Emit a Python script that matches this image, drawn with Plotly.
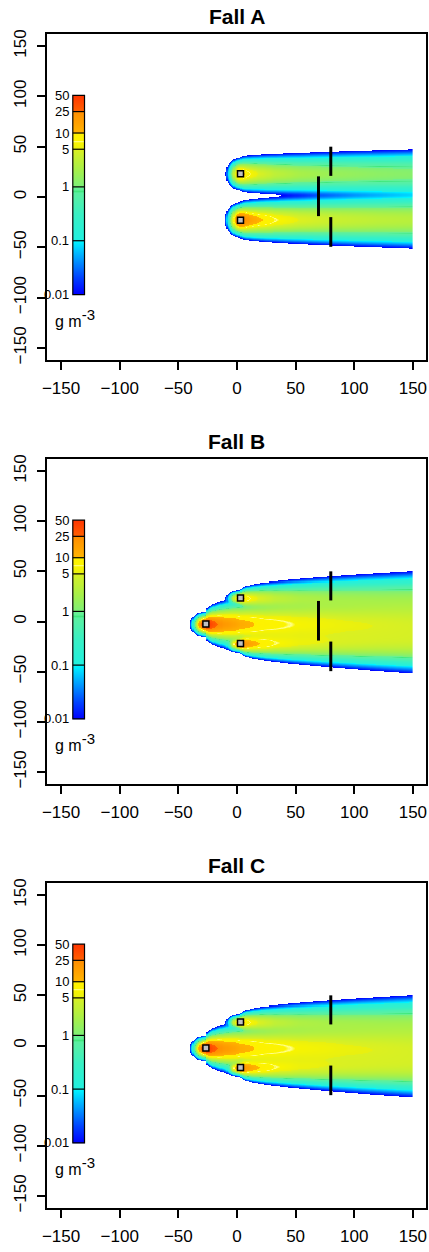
import numpy as np
import plotly.graph_objects as go

# ---------------------------------------------------------------
# Colour key for concentration (g m^-3)
KEY_LEVELS = [0.01, 0.1, 1, 5, 10, 25, 50]
KEY_LABELS = ["0.01", "0.1", "1", "5", "10", "25", "50"]

# Colour stops along the key (concentration, colour)
STOP_CONC = [0.01, 0.02, 0.05, 0.1, 0.1001, 0.3, 0.62, 0.77, 0.82, 0.88, 1.0, 1.0001,
             2.0, 4.0, 5.0, 5.001, 6.7, 7.0, 7.3, 9.99, 10.0, 24.99, 25.0, 50.0]
STOP_COLOR = ["#0000ff", "#0040ff", "#00a8ff", "#00f8ff", "#20f0e0", "#38f0c4", "#54f0a8",
              "#5af0a0", "#40e87c", "#60f098", "#6cf090", "#7cf078",
              "#a4f04c", "#ccf02c", "#dcf020", "#e8f010", "#f8f400", "#ffff90", "#fcf400",
              "#fff000", "#ffb400", "#ff8c00", "#ff6000", "#ff3400"]

# Downwind decay of the plume centre-line, relative to the source value
DOWNWIND_DIST = [0, 3, 8, 15, 30, 50, 80, 120, 180, 220]
CENTRELINE_REL = [1.0, 0.75, 0.5, 0.35, 0.22, 0.155, 0.118, 0.095, 0.078, 0.07]
UPWIND_SPREAD = 3.3

# Case A: two sources and three sampling transects
A_SRC_X = [3, 3]
A_SRC_Y = [23, -23]
A_SRC_Q = [14, 32]          # value at the source
A_SRC_W = [4.3, 4.4]        # lateral spread at the source
A_SRC_G = [0.30, 0.34]      # lateral spread growth (per sqrt of distance)
A_LINE_X = [80, 69.5, 80]
A_LINE_Y0 = [21, -19, -20]
A_LINE_Y1 = [50, 20.5, -49.5]

# Case B: three sources and three sampling transects
B_SRC_X = [-26.5, 3, 3]
B_SRC_Y = [-2.5, 23.5, -22]
B_SRC_Q = [55, 14, 28]
B_SRC_W = [3.1, 2.2, 2.2]
B_SRC_G = [0.78, 0.5, 0.5]
B_LINE_X = [80, 69.5, 80]
B_LINE_Y0 = [21, -19, -20]
B_LINE_Y1 = [50, 20.5, -49.5]

# Case C: same sources as B, two sampling transects
C_SRC_X = [-26.5, 3, 3]
C_SRC_Y = [-2.5, 23.5, -22]
C_SRC_Q = [55, 14, 28]
C_SRC_W = [3.1, 2.2, 2.2]
C_SRC_G = [0.78, 0.5, 0.5]
C_LINE_X = [80, 80]
C_LINE_Y0 = [21, -20]
C_LINE_Y1 = [50, -49.5]

TITLES = ["Fall A", "Fall B", "Fall C"]
AXIS_TICKS = [-150, -100, -50, 0, 50, 100, 150]

# ---------------------------------------------------------------
LOG_MIN = np.log10(KEY_LEVELS[0])
LOG_MAX = np.log10(KEY_LEVELS[-1])


def key_pos(c):
    return (np.log10(c) - LOG_MIN) / (LOG_MAX - LOG_MIN)


COLORSCALE = [[float(key_pos(c)), col] for c, col in zip(STOP_CONC, STOP_COLOR)]
COLORSCALE[0][0] = 0.0
COLORSCALE[-1][0] = 1.0

# model grid (cell centres, 1 m spacing, ending at x = 150)
GX = np.arange(-59.5, 150.0, 1.0)
GY = np.arange(-89.5, 90.0, 1.0)


def plume_field(src_x, src_y, src_q, src_w, src_g):
    X, Y = np.meshgrid(GX, GY)
    conc = np.zeros_like(X)
    for x0, y0, q, w, g in zip(src_x, src_y, src_q, src_w, src_g):
        dx = X - x0
        dy = Y - y0
        down = np.clip(dx, 0, None)
        sig = w + g * np.sqrt(down)
        rel = np.interp(down, DOWNWIND_DIST, CENTRELINE_REL)
        up = np.where(dx < 0, np.exp(-dx ** 2 / (2 * UPWIND_SPREAD ** 2)), 1.0)
        conc += q * rel * up * np.exp(-dy ** 2 / (2 * sig ** 2))
    z = np.log10(np.maximum(conc, 1e-12))
    z = np.minimum(z, LOG_MAX)
    z = np.where(conc < KEY_LEVELS[0], np.nan, np.round(z, 3))
    return z


CASES = [
    (A_SRC_X, A_SRC_Y, A_SRC_Q, A_SRC_W, A_SRC_G, A_LINE_X, A_LINE_Y0, A_LINE_Y1),
    (B_SRC_X, B_SRC_Y, B_SRC_Q, B_SRC_W, B_SRC_G, B_LINE_X, B_LINE_Y0, B_LINE_Y1),
    (C_SRC_X, C_SRC_Y, C_SRC_Q, C_SRC_W, C_SRC_G, C_LINE_X, C_LINE_Y0, C_LINE_Y1),
]

# layout geometry
W, H = 429, 1252
M_L, M_R, M_T, M_B = 47, 1, 34, 44
PANEL_PX = [(34, 360), (459, 784), (883, 1208)]   # top, bottom in pixels
plot_h = H - M_T - M_B


def px_to_paper(py):
    return (H - M_B - py) / plot_h


# key bar placement in data units
KEY_X0, KEY_X1 = -140.0, -130.0
KEY_Y0, KEY_Y1 = -97.0, 101.0


def key_y(c):
    return KEY_Y0 + key_pos(c) * (KEY_Y1 - KEY_Y0)


NARROW = "Liberation Sans Narrow, Arial Narrow, Liberation Sans, Arial, sans-serif"
TICK_FONT = dict(family=NARROW, size=17, color="black")
KEY_FONT = dict(family=NARROW, size=13, color="black")

fig = go.Figure()
annotations = []
shapes = []

for i, (sx, sy, sq, sw, sg, lx, ly0, ly1) in enumerate(CASES):
    n = "" if i == 0 else str(i + 1)
    xa, ya = "x" + n, "y" + n

    z = plume_field(sx, sy, sq, sw, sg)
    fig.add_trace(go.Heatmap(
        x=GX, y=GY, z=z, xaxis=xa, yaxis=ya,
        colorscale=COLORSCALE, zmin=LOG_MIN, zmax=LOG_MAX,
        showscale=False, hoverinfo="skip", zsmooth=False,
    ))

    # colour key bar drawn as a one-column heatmap
    key_edges = np.linspace(KEY_Y0, KEY_Y1, 199)
    key_mid = 0.5 * (key_edges[:-1] + key_edges[1:])
    key_z = LOG_MIN + (key_mid - KEY_Y0) / (KEY_Y1 - KEY_Y0) * (LOG_MAX - LOG_MIN)
    fig.add_trace(go.Heatmap(
        x=[KEY_X0, KEY_X1], y=key_edges, z=key_z.reshape(-1, 1),
        xaxis=xa, yaxis=ya, colorscale=COLORSCALE, zmin=LOG_MIN, zmax=LOG_MAX,
        showscale=False, hoverinfo="skip",
    ))
    shapes.append(dict(type="rect", xref=xa, yref=ya, x0=KEY_X0, x1=KEY_X1,
                       y0=KEY_Y0, y1=KEY_Y1, line=dict(color="black", width=1.2)))
    for lev, lab in zip(KEY_LEVELS, KEY_LABELS):
        yy = key_y(lev)
        if 0 < key_pos(lev) < 1:
            shapes.append(dict(type="line", xref=xa, yref=ya, x0=KEY_X0, x1=KEY_X1,
                               y0=yy, y1=yy, line=dict(color="black", width=1.2)))
        annotations.append(dict(xref=xa, yref=ya, x=KEY_X0 - 1.2, y=yy, text=lab,
                                showarrow=False, xanchor="right", yanchor="middle",
                                font=KEY_FONT))
    annotations.append(dict(xref=xa, yref=ya, x=-157, y=-120,
                            text="g m<sup><span style='font-size:15px'>-3</span></sup>",
                            showarrow=False, xanchor="left", yanchor="middle",
                            font=dict(family="Liberation Sans, Arial, sans-serif",
                                      size=16, color="black")))

    # sampling transects
    tx, ty = [], []
    for x0, y0, y1 in zip(lx, ly0, ly1):
        tx += [x0, x0, None]
        ty += [y0, y1, None]
    fig.add_trace(go.Scatter(x=tx, y=ty, xaxis=xa, yaxis=ya, mode="lines",
                             line=dict(color="black", width=3), hoverinfo="skip",
                             showlegend=False))

    # source positions
    fig.add_trace(go.Scatter(x=sx, y=sy, xaxis=xa, yaxis=ya, mode="markers",
                             marker=dict(symbol="square", size=6, color="#c0c0c0",
                                         line=dict(color="black", width=1.5)),
                             hoverinfo="skip", showlegend=False))

    top_px, bot_px = PANEL_PX[i]
    dom = [px_to_paper(bot_px), px_to_paper(top_px)]
    axis_common = dict(showgrid=False, zeroline=False, showline=True, mirror=True,
                       linecolor="black", linewidth=1.5, ticks="outside", ticklen=8,
                       tickwidth=1.5, tickcolor="black", tickvals=AXIS_TICKS,
                       tickfont=TICK_FONT)
    fig.layout["xaxis" + n] = dict(domain=[0, 1], range=[-162, 161.2], anchor=ya,
                                   ticklabelstandoff=4, **axis_common)
    fig.layout["yaxis" + n] = dict(domain=dom, range=[-162, 162], anchor=xa,
                                   tickangle=-90, ticklabelstandoff=4, **axis_common)

    annotations.append(dict(xref="paper", yref="paper", x=0.5, y=dom[1],
                            text="<b>" + TITLES[i] + "</b>", showarrow=False,
                            xanchor="center", yanchor="bottom", yshift=4,
                            font=dict(family="Liberation Sans, Arial, sans-serif",
                                      size=21, color="black")))

fig.update_layout(
    width=W, height=H,
    margin=dict(l=M_L, r=M_R, t=M_T, b=M_B),
    paper_bgcolor="white", plot_bgcolor="white",
    showlegend=False,
    annotations=annotations,
    shapes=shapes,
)

fig.write_html("out.html")
